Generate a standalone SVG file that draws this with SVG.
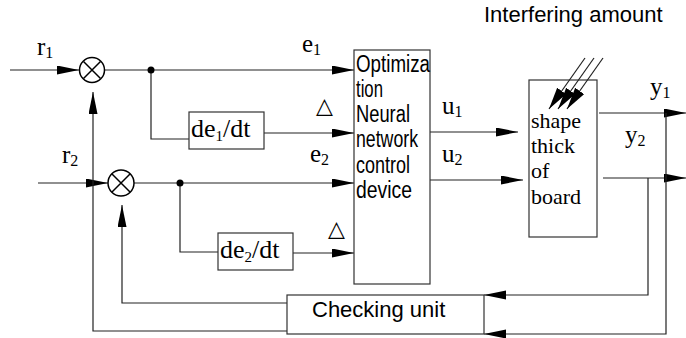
<svg xmlns="http://www.w3.org/2000/svg" width="686" height="338" viewBox="0 0 686 338">
<style>
.ln{fill:none;stroke:#222;stroke-width:1.2}
.box{fill:#fff;stroke:#333;stroke-width:1.2}
.tm{font-family:"Liberation Serif","Times New Roman",serif;fill:#000}
.sn{font-family:"Liberation Sans",Arial,sans-serif;fill:#000}
.arr{marker-end:url(#ah)}
</style>
<defs>
<marker id="ah" markerUnits="userSpaceOnUse" markerWidth="24" markerHeight="10" refX="22" refY="4.5" orient="auto">
<path d="M0,0 L22,4.5 L0,9 Z" fill="#000"/>
</marker>
<marker id="ah2" markerUnits="userSpaceOnUse" markerWidth="24" markerHeight="12" refX="22" refY="5.5" orient="auto">
<path d="M0,0 L22,5.5 L0,11 Z" fill="#000"/>
</marker>
</defs>
<rect width="686" height="338" fill="#fff"/>

<g id="plant">
<rect x="529" y="80" width="68" height="157" style="fill:#fff;stroke:#333;stroke-width:1.2"/>
<g class="tm" font-size="22">
<text x="531" y="128">shape</text>
<text x="531" y="153">thick</text>
<text x="531" y="178">of</text>
<text x="531" y="204">board</text>
</g>
</g>

<g id="connectors">
<path class="ln arr" d="M10,70 H79"/>
<path class="ln arr" d="M105,70 H354"/>
<path class="ln" d="M151,70 V139 H189"/>
<path class="ln arr" d="M264,133 H354"/>
<path class="ln arr" d="M38,183 H108"/>
<path class="ln arr" d="M134,183 H354"/>
<path class="ln" d="M180,183 V252 H218"/>
<path class="ln arr" d="M293,253 H354"/>
<path class="ln arr" d="M430,132 H518"/>
<path class="ln arr" d="M430,180 H523"/>
<path class="ln arr" d="M599,113 H686"/>
<path class="ln arr" d="M603,178 H686"/>
<path class="ln arr" d="M648,178 V295 H484"/>
<path class="ln arr" d="M666,113 V334 H484"/>
<path class="ln arr" d="M287,303 H122 V205"/>
<path class="ln arr" d="M287,331 H93 V92"/>
<path class="ln" d="M585,58 L549,109" marker-end="url(#ah2)"/>
<path class="ln" d="M594,58 L558,109" marker-end="url(#ah2)"/>
<path class="ln" d="M603,58 L567,109" marker-end="url(#ah2)"/>
<circle cx="151" cy="70" r="3.5" fill="#000"/>
<circle cx="180" cy="183" r="3.5" fill="#000"/>
</g>

<g id="sum1">
<circle cx="92" cy="70" r="12.5" fill="#fff" stroke="#000" stroke-width="1.5"/>
<path d="M83.5,61.5 L100.5,78.5 M100.5,61.5 L83.5,78.5" stroke="#000" stroke-width="1.5"/>
</g>
<g id="sum2">
<circle cx="121" cy="183" r="13" fill="#fff" stroke="#000" stroke-width="1.5"/>
<path d="M112,174 L130,192 M130,174 L112,192" stroke="#000" stroke-width="1.5"/>
</g>

<g id="diff1">
<rect class="box" x="189" y="112" width="75" height="37"/>
<text class="tm" x="191" y="137" font-size="26">de<tspan font-size="15" dy="4">1</tspan><tspan dy="-4">/dt</tspan></text>
</g>
<g id="diff2">
<rect class="box" x="218" y="233" width="75" height="37"/>
<text class="tm" x="220" y="258" font-size="26">de<tspan font-size="15" dy="4">2</tspan><tspan dy="-4">/dt</tspan></text>
</g>

<g id="controller">
<rect class="box" x="354" y="50" width="76" height="234"/>
<g class="sn" font-size="23">
<text x="356" y="72" textLength="74" lengthAdjust="spacingAndGlyphs">Optimiza</text>
<text x="356" y="97" textLength="27" lengthAdjust="spacingAndGlyphs">tion</text>
<text x="356" y="122" textLength="54" lengthAdjust="spacingAndGlyphs">Neural</text>
<text x="356" y="147" textLength="62" lengthAdjust="spacingAndGlyphs">network</text>
<text x="356" y="173" textLength="54" lengthAdjust="spacingAndGlyphs">control</text>
<text x="356" y="198" textLength="56" lengthAdjust="spacingAndGlyphs">device</text>
</g>
</g>

<g id="checker">
<rect class="box" x="287" y="295" width="197" height="39"/>
<text class="sn" x="312" y="317" font-size="22">Checking unit</text>
</g>

<g id="labels">
<text class="sn" x="484" y="22" font-size="22">Interfering amount</text>
<text class="tm" x="37" y="55" font-size="25">r<tspan font-size="16" dy="3">1</tspan></text>
<text class="tm" x="302" y="52" font-size="25">e<tspan font-size="16" dy="3">1</tspan></text>
<text class="tm" x="62" y="163" font-size="25">r<tspan font-size="16" dy="3">2</tspan></text>
<text class="tm" x="310" y="162" font-size="25">e<tspan font-size="16" dy="3">2</tspan></text>
<text class="tm" x="442" y="114" font-size="25">u<tspan font-size="16" dy="3">1</tspan></text>
<text class="tm" x="442" y="162" font-size="25">u<tspan font-size="16" dy="3">2</tspan></text>
<text class="tm" x="650" y="95" font-size="25">y<tspan font-size="16" dy="3">1</tspan></text>
<text class="tm" x="625" y="143" font-size="25">y<tspan font-size="16" dy="3">2</tspan></text>
<text x="316" y="113" font-family="DejaVu Sans, sans-serif" font-size="22" fill="#000">△</text>
<text x="328" y="236" font-family="DejaVu Sans, sans-serif" font-size="22" fill="#000">△</text>
</g>
</svg>
